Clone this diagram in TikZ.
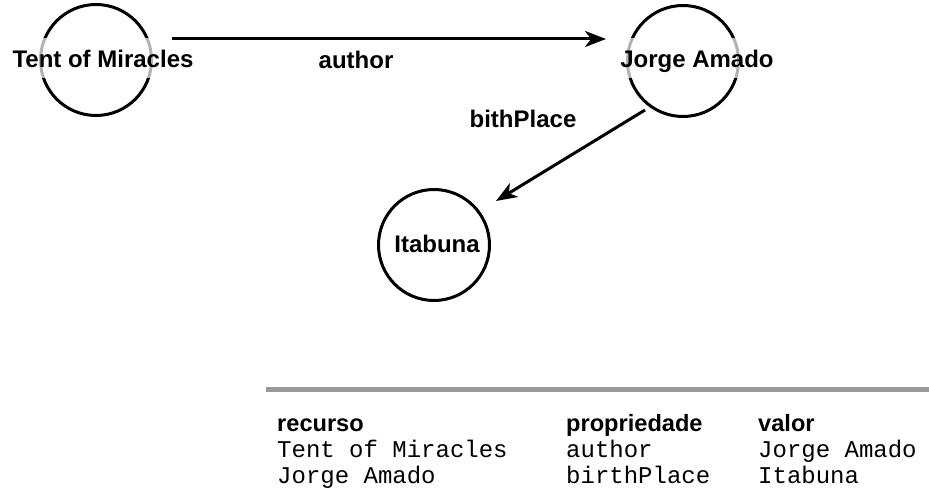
\documentclass[tikz,border=0pt]{standalone}
\usepackage{fontspec}
\setmainfont{Liberation Sans}
\setmonofont{Liberation Mono}
\usetikzlibrary{arrows.meta,calc}
\begin{document}
\begin{tikzpicture}[x=1pt,y=-1pt,
  res/.style={circle,draw=black,line width=3pt,minimum size=111pt,inner sep=0pt},
  restext/.style={anchor=base,inner sep=0pt,fill=white,fill opacity=0.7,text opacity=1,text height=30pt,text depth=10pt,font=\fontsize{24}{28}\selectfont\bfseries},
  edgelabel/.style={anchor=base,inner sep=0pt,font=\fontsize{24}{28}\selectfont\bfseries},
  rel/.style={line width=3pt,-{Stealth[length=21pt,width=16pt,inset=6pt]}},
  head/.style={anchor=base west,inner sep=0pt,font=\fontsize{23.6}{28}\selectfont\bfseries},
  cell/.style={anchor=base west,inner sep=0pt,font=\fontsize{24}{28}\selectfont\ttfamily}]
\useasboundingbox (0,0) rectangle (929,489);
% resources
\node[res] (tm) at (96,60) {};
\node[res] (ja) at (683,61) {};
\node[res] (it) at (434,245) {};
\node[restext] (tmt) at (103,68) {Tent of Miracles};
\node[restext] (jat) at (697,68) {Jorge Amado};
\node[edgelabel] (itt) at (437,252) {Itabuna};
% relations
\draw[rel] ($(tm.center)+(76,-21)$) -- ($(ja.center)+(-77,-22)$);
\draw[rel] ($(ja.center)+(-38,49)$) -- ($(it.center)+(62,-44)$);
\node[edgelabel] (lauthor) at (356,69) {author};
\node[edgelabel] (lbirth) at (523,128) {bithPlace};
% table
\draw[line width=5pt,draw=black!40] (266,389) coordinate (ls) -- (929,389) coordinate (le);
\node[head] (h1) at (277,431) {recurso};
\node[head] (h2) at (566,431) {propriedade};
\node[head] (h3) at (758,431) {valor};
\node[cell] (c11) at (277,457) {Tent of Miracles};
\node[cell] (c12) at (566,457) {author};
\node[cell] (c13) at (758,457) {Jorge Amado};
\node[cell] (c21) at (277,483) {Jorge Amado};
\node[cell] (c22) at (566,483) {birthPlace};
\node[cell] (c23) at (758,483) {Itabuna};
\end{tikzpicture}
\end{document}
